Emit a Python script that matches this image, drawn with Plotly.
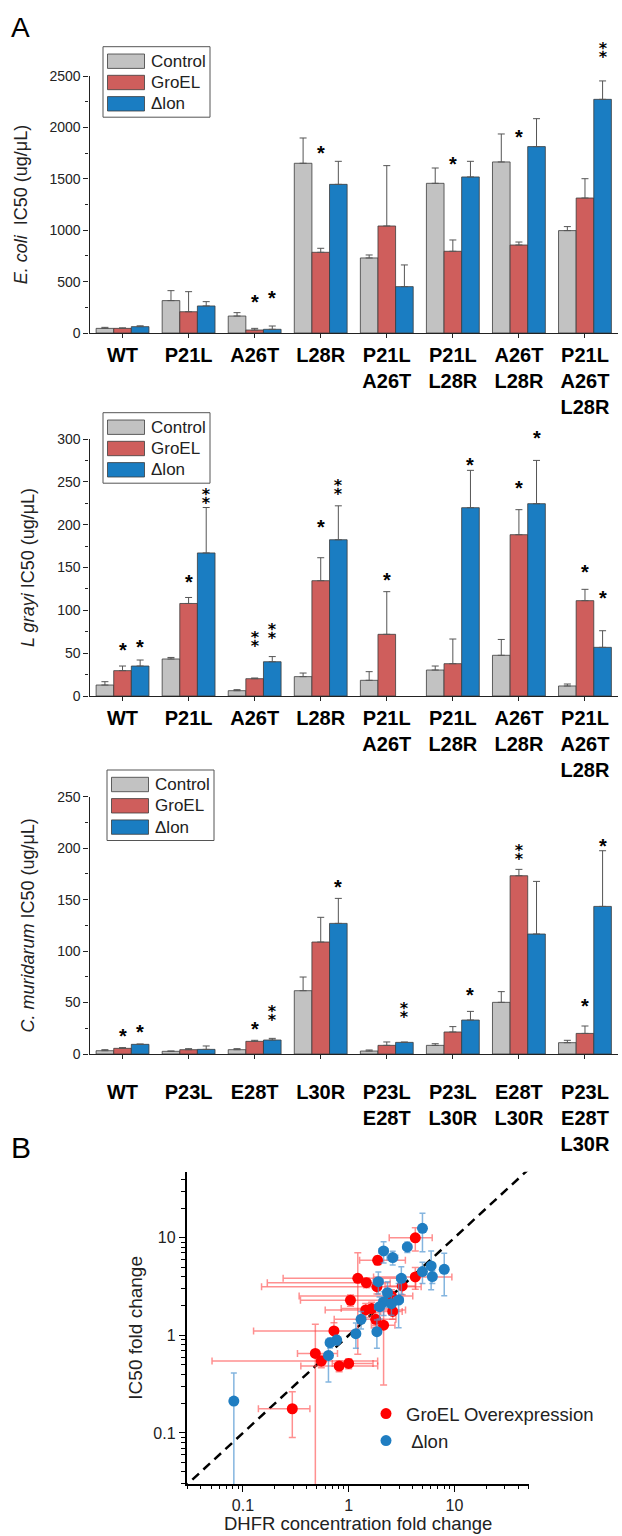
import plotly.graph_objects as go

W, H = 622, 1536
FONT = "Arial, 'Liberation Sans', Helvetica, sans-serif"

# ---------------- data ----------------
series_names = ["Control", "GroEL", "\u0394lon"]

ecoli_labels = ["WT", "P21L", "A26T", "L28R", "P21L<br>A26T", "P21L<br>L28R",
                "A26T<br>L28R", "P21L<br>A26T<br>L28R"]
ecoli_control = [45, 315, 165, 1651, 730, 1456, 1664, 996]
ecoli_control_err = [10, 97, 33, 246, 29, 149, 272, 39]
ecoli_groel = [45, 207, 29, 785, 1041, 795, 856, 1313]
ecoli_groel_err = [5, 195, 16, 39, 587, 110, 29, 188]
ecoli_dlon = [62, 263, 36, 1446, 451, 1518, 1813, 2273]
ecoli_dlon_err = [8, 42, 32, 224, 211, 152, 272, 179]
# significance stars: (category index, series, y position, number of stars)
ecoli_stars = [(2, "GroEL", 353, 1), (2, "dlon", 386, 1), (3, "GroEL", 1803, 1),
               (5, "GroEL", 1690, 1), (6, "GroEL", 1959, 1), (7, "dlon", 2753, 2)]

grayi_labels = ecoli_labels
grayi_control = [12.8, 43.2, 6.2, 22.6, 18.3, 30.3, 47.5, 11.7]
grayi_control_err = [3.9, 1.8, 1.2, 4.2, 10.1, 4.7, 18.5, 2.3]
grayi_groel = [29.6, 108, 20.2, 134.6, 72, 37.7, 188.3, 111.3]
grayi_groel_err = [5.4, 7, 0.8, 26.8, 49.8, 28.8, 29.2, 13.2]
grayi_dlon = [35, 167, 40, 182.4, None, 219.8, 224.5, 56.8]
grayi_dlon_err = [7, 53, 6, 39.6, None, 43.6, 50.5, 19.4]
grayi_stars = [(0, "GroEL", 59.5, 1), (0, "dlon", 63.4, 1), (1, "GroEL", 139.3, 1),
               (1, "dlon", 233.4, 2), (2, "GroEL", 66.1, 2), (2, "dlon", 76.2, 2),
               (3, "GroEL", 203.4, 1), (3, "dlon", 244.3, 2), (4, "GroEL", 141.2, 1),
               (5, "dlon", 275.4, 1), (6, "GroEL", 248.2, 1), (6, "dlon", 306.5, 1),
               (7, "GroEL", 150.9, 1), (7, "dlon", 119.8, 1)]

murid_labels = ["WT", "P23L", "E28T", "L30R", "P23L<br>E28T", "P23L<br>L30R",
                "E28T<br>L30R", "P23L<br>E28T<br>L30R"]
murid_control = [3.2, 2.6, 4.2, 61.5, 2.9, 8.4, 50.2, 11]
murid_control_err = [1.0, 0.3, 1.0, 13.3, 1.0, 1.6, 10.4, 2.3]
murid_groel = [5.5, 4.2, 12.3, 108.8, 8.4, 21.4, 173.2, 20]
murid_groel_err = [0.7, 1.0, 1.0, 24, 3.3, 5.2, 6.2, 7.2]
murid_dlon = [9.4, 4.5, 13.6, 126.9, 11.3, 33, 116.6, 143.4]
murid_dlon_err = [0.3, 3.3, 1.6, 24.3, 0.3, 8.4, 51.1, 54.1]
murid_stars = [(0, "GroEL", 22.7, 1), (0, "dlon", 26.6, 1), (2, "GroEL", 29.1, 1),
               (2, "dlon", 40, 2), (3, "dlon", 167.4, 1), (4, "dlon", 42.4, 2),
               (5, "dlon", 62.2, 1), (6, "GroEL", 196, 2), (7, "GroEL", 51.5, 1),
               (7, "dlon", 206.9, 1)]

# panel B: DHFR fold change (x) vs IC50 fold change (y)
groel_x = [4.27, 1.88, 4.27, 1.22, 1.47, 3.21, 1.85, 1.04, 2.54, 1.45, 1.65, 1.80,
           2.14, 2.61, 0.726, 0.484, 0.551, 0.813, 1.0, 0.293]
groel_y = [10.0, 5.88, 3.97, 3.84, 3.47, 3.21, 3.15, 2.29, 2.53, 1.82, 1.88, 1.46,
           1.27, 1.76, 1.11, 0.653, 0.546, 0.485, 0.516, 0.177]
groel_xerr_plus = [1.9, 1.56, 5.2, 2.1, 1.0, 1.1, 3.0, 2.1, 1.5, 2.0, 0.8, 1.0,
                   0.6, 0.6, 0.47, 0.3, 1.33, 1.07, 0.7, 0.137]
groel_xerr_minus = [1.85, 0.61, 2.55, 0.98, 1.3, 1.0, 1.7, 0.69, 2.2, 0.85, 0.8, 1.07,
                    0.5, 0.6, 0.6, 0.156, 0.5, 0.46, 0.3, 0.153]
groel_yerr = [2.7, 0.6, 1.0, 3.2, 0.4, 0.6, 0.5, 0.3, 0.4, 0.3, 0.3, 0.25,
              0.96, 0.3, 0.24, 0.65, 0.08, 0.06, 0.06, 0.087]

dlon_x = [4.99, 3.59, 2.14, 2.61, 1.91, 3.15, 4.99, 6.03, 6.19, 8.02, 2.33, 2.97,
          2.14, 1.96, 2.54, 1.31, 1.17, 1.85, 0.771, 0.667, 0.644, 0.082]
dlon_y = [12.5, 8.05, 7.33, 6.26, 3.55, 3.84, 4.5, 5.14, 4.0, 4.75, 2.74, 2.3,
          2.2, 1.97, 2.11, 1.46, 1.04, 1.09, 0.895, 0.841, 0.623, 0.212]
dlon_xerr = [0.3, 0.3, 0.2, 0.3, 0.2, 0.3, 0.4, 0.4, 0.4, 0.5, 0.2, 0.3,
             0.2, 0.2, 0.2, 0.1, 0.1, 0.15, 0.05, 0.05, 0.05, 0.0]
dlon_yerr = [5.3, 1.0, 1.8, 1.0, 0.9, 1.2, 1.1, 2.2, 0.6, 2.2, 0.8, 1.1,
             0.6, 0.5, 0.5, 0.3, 0.3, 0.35, 0.1, 0.1, 0.29, 0.2]

# ---------------- styling ----------------
bar_colors = ["#C2C2C2", "#CF5E5C", "#1A7DC2"]
star_offset = {"GroEL": 0.0, "dlon": 0.8 / 3}
star_text = {1: "*", 2: "\u2051"}
red_pt = "#FF0000"
blue_pt = "#1F7DC1"


def fx(px):
    return px / W


def fy(py):
    return 1 - py / H


panels = [
    dict(labels=ecoli_labels, vals=[ecoli_control, ecoli_groel, ecoli_dlon],
         errs=[ecoli_control_err, ecoli_groel_err, ecoli_dlon_err], stars=ecoli_stars,
         ymax=2500, dtick=500, minor=250, top=76, bottom=333, standoff=0,
         title="<i>E. coli</i>\u00a0\u00a0IC50 (ug/\u03bcL)", legbox=(103, 46.7)),
    dict(labels=grayi_labels, vals=[grayi_control, grayi_groel, grayi_dlon],
         errs=[grayi_control_err, grayi_groel_err, grayi_dlon_err], stars=grayi_stars,
         ymax=300, dtick=50, minor=25, top=439, bottom=696, standoff=0,
         title="<i>L grayi</i> IC50 (ug/\u03bcL)", legbox=(103, 412.7)),
    dict(labels=murid_labels, vals=[murid_control, murid_groel, murid_dlon],
         errs=[murid_control_err, murid_groel_err, murid_dlon_err], stars=murid_stars,
         ymax=250, dtick=50, minor=25, top=796.7, bottom=1054, standoff=16,
         title="<i>C. muridarum</i> IC50 (ug/\u03bcL)", legbox=(107, 770)),
]
X_LEFT, X_RIGHT = 89.5, 618

fig = go.Figure()
annotations = []
shapes = []
layout = {}

for i, p in enumerate(panels):
    n = i + 1
    xa = "x" if n == 1 else f"x{n}"
    ya = "y" if n == 1 else f"y{n}"
    for s in range(3):
        fig.add_trace(go.Bar(
            x=p["labels"], y=p["vals"][s], name=series_names[s], showlegend=False,
            xaxis=xa, yaxis=ya,
            marker=dict(color=bar_colors[s], line=dict(color="#3c3c3c", width=0.8)),
            error_y=dict(type="data", array=p["errs"][s], arrayminus=[0] * 8,
                         symmetric=False, color="#555555", thickness=1, width=3.5),
        ))
    axis_line = dict(showline=True, linecolor="#222222", linewidth=1.3, showgrid=False,
                     zeroline=False, ticks="outside", tickcolor="#222222", tickwidth=1.2)
    layout["xaxis" if n == 1 else f"xaxis{n}"] = dict(
        domain=[fx(X_LEFT), fx(X_RIGHT)], anchor=ya, type="category",
        categoryorder="array", categoryarray=p["labels"], range=[-0.5, 7.5],
        ticklen=4, ticklabelstandoff=p["standoff"],
        tickfont=dict(size=20, family=FONT, color="black", weight="bold"), **axis_line)
    layout["yaxis" if n == 1 else f"yaxis{n}"] = dict(
        domain=[fy(p["bottom"]), fy(p["top"])], anchor=xa, range=[0, p["ymax"]],
        tick0=0, dtick=p["dtick"], ticklen=5,
        minor=dict(ticks="outside", ticklen=3, dtick=p["minor"], tickcolor="#222222"),
        tickfont=dict(size=14, family=FONT, color="#222222"),
        title=dict(text=p["title"], font=dict(size=18, family=FONT, color="#222222"),
                   standoff=17), automargin=False, **axis_line)
    # boundary ticks between categories
    layout[f"xaxis{n + 4}"] = dict(
        overlaying=xa, anchor=ya, type="linear", range=[-0.5, 7.5],
        tickmode="array", tickvals=[k + 0.5 for k in range(7)], ticks="outside",
        ticklen=4, tickcolor="#222222", tickwidth=1.2, showticklabels=False,
        showline=False, showgrid=False, zeroline=False)

    # significance stars (axis-domain reference so stars above the top tick stay visible)
    for (ci, ser, yv, cnt) in p["stars"]:
        annotations.append(dict(
            x=ci + star_offset[ser], y=yv / p["ymax"], xref=xa, yref=f"{ya} domain",
            text=star_text[cnt], showarrow=False, yanchor="middle", xanchor="center",
            yshift=-5 if cnt == 1 else -1,
            font=dict(size=20, family=FONT if cnt == 1 else "DejaVu Sans", color="black",
                      weight="bold")))

    # legend box drawn as shapes
    bx, by = p["legbox"]
    shapes.append(dict(type="rect", xref="paper", yref="paper",
                       x0=fx(bx), x1=fx(bx + 107), y0=fy(by), y1=fy(by + 70.5),
                       line=dict(color="#555555", width=1), fillcolor="white", layer="above"))
    for s in range(3):
        cy = by + 14.5 + 21.3 * s
        shapes.append(dict(type="rect", xref="paper", yref="paper",
                           x0=fx(bx + 4.5), x1=fx(bx + 41.5), y0=fy(cy - 7.2), y1=fy(cy + 7.2),
                           line=dict(color="#3c3c3c", width=0.8), fillcolor=bar_colors[s],
                           layer="above"))
        annotations.append(dict(x=fx(bx + 46), y=fy(cy), xref="paper", yref="paper",
                                text=series_names[s], showarrow=False, xanchor="left",
                                yanchor="middle", font=dict(size=17, family=FONT, color="#222222")))

# ---------------- panel B ----------------
fig.add_trace(go.Scatter(x=[0.01, 100], y=[0.01, 100], mode="lines", xaxis="x4", yaxis="y4",
                         line=dict(color="black", width=2.5, dash="9px,6px"),
                         showlegend=False, hoverinfo="skip"))
fig.add_trace(go.Scatter(
    x=groel_x, y=groel_y, mode="markers", name="GroEL Overexpression", xaxis="x4", yaxis="y4",
    marker=dict(color=red_pt, size=11),
    error_x=dict(type="data", array=groel_xerr_plus, arrayminus=groel_xerr_minus,
                 symmetric=False, color="rgba(255,70,70,0.6)", thickness=1.5, width=3.5),
    error_y=dict(type="data", array=groel_yerr, color="rgba(255,70,70,0.6)",
                 thickness=1.5, width=3.5)))
fig.add_trace(go.Scatter(
    x=dlon_x, y=dlon_y, mode="markers", name="\u00a0\u0394lon", xaxis="x4", yaxis="y4",
    marker=dict(color=blue_pt, size=11),
    error_x=dict(type="data", array=dlon_xerr, color="rgba(80,150,210,0.7)",
                 thickness=1.5, width=3),
    error_y=dict(type="data", array=dlon_yerr, color="rgba(80,150,210,0.7)",
                 thickness=1.5, width=3)))

minor_vals = [m * 10.0 ** e for e in range(-2, 2) for m in range(2, 10)]
log_axis = dict(type="log", showline=True, linecolor="black", linewidth=1.5, showgrid=False,
                zeroline=False, ticks="outside", ticklen=6, tickwidth=1.3, tickcolor="black",
                tickmode="array", tickvals=[0.1, 1, 10], ticktext=["0.1", "1", "10"],
                minor=dict(ticks="outside", ticklen=3.5, tickmode="array", tickvals=minor_vals,
                           tickcolor="black", tickwidth=1),
                tickfont=dict(size=16, family=FONT, color="#222222"), automargin=False)
SC_LEFT, SC_RIGHT, SC_TOP, SC_BOTTOM = 186.5, 529, 1171.7, 1484
layout["xaxis4"] = dict(domain=[fx(SC_LEFT), fx(SC_RIGHT)], anchor="y4", range=[-1.534, 1.706],
                        **log_axis)
layout["yaxis4"] = dict(domain=[fy(SC_BOTTOM), fy(SC_TOP)], anchor="x4", range=[-1.523, 1.677],
                        title=dict(text="IC50 fold change",
                                   font=dict(size=19, family=FONT, color="#222222"), standoff=6),
                        **log_axis)
# x-axis title of panel B (kept inside the page)
annotations.append(dict(x=fx((SC_LEFT + SC_RIGHT) / 2), y=fy(1536), xref="paper", yref="paper",
                        text="DHFR concentration fold change", showarrow=False,
                        xanchor="center", yanchor="bottom",
                        font=dict(size=18.5, family=FONT, color="#222222")))

annotations.append(dict(x=fx(9), y=fy(27), xref="paper", yref="paper", text="A",
                        showarrow=False, xanchor="left", yanchor="middle",
                        font=dict(size=28, family=FONT, color="black")))
annotations.append(dict(x=fx(9), y=fy(1147), xref="paper", yref="paper", text="B",
                        showarrow=False, xanchor="left", yanchor="middle",
                        font=dict(size=30, family=FONT, color="black")))

fig.update_layout(
    width=W, height=H, autosize=False,
    margin=dict(l=0, r=0, t=0, b=0),
    paper_bgcolor="white", plot_bgcolor="white",
    barmode="group", bargap=0.2, bargroupgap=0,
    font=dict(family=FONT, color="#222222"),
    legend=dict(x=fx(366), y=fy(1395), xanchor="left", yanchor="top",
                bgcolor="rgba(0,0,0,0)", font=dict(size=18.5, family=FONT, color="#222222"),
                tracegroupgap=0),
    annotations=annotations, shapes=shapes,
    **layout,
)

fig.write_html("out.html", config={"displayModeBar": False},
               post_script="document.body.style.margin='0';document.body.style.overflow='hidden';")
